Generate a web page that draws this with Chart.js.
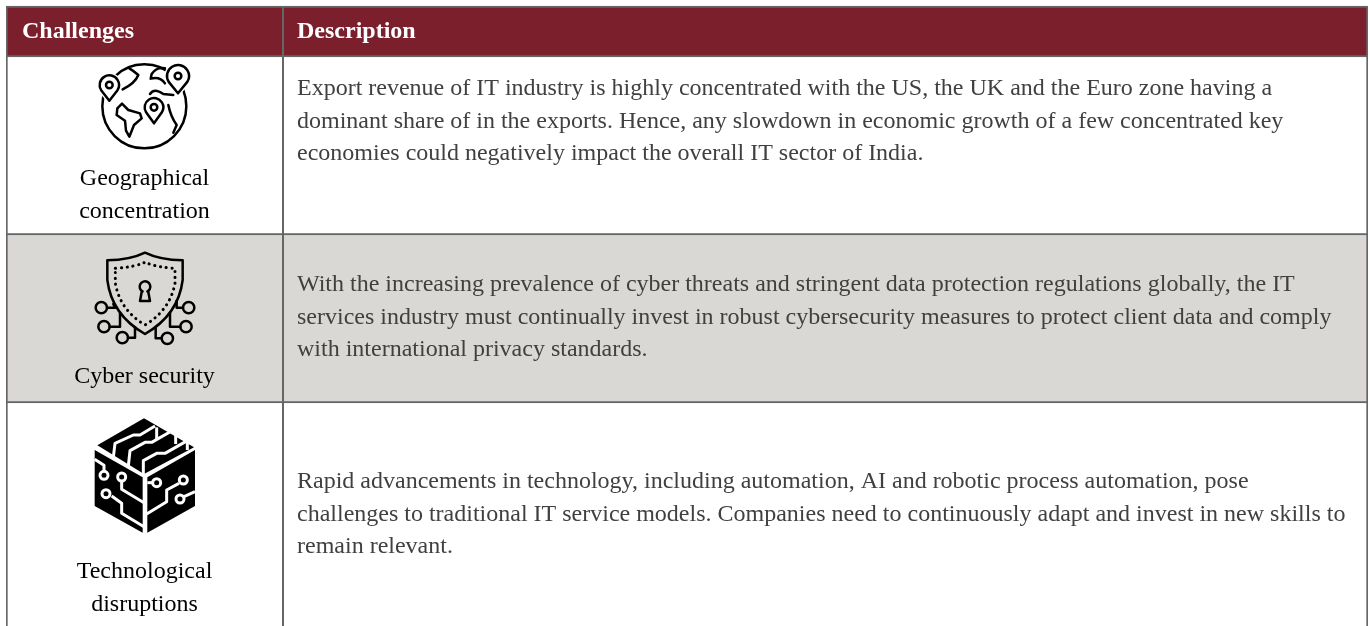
<!DOCTYPE html>
<html>
<head>
<meta charset="utf-8">
<title>Challenges</title>
<script src="https://cdn.jsdelivr.net/npm/chart.js@4"></script>
<style>
  html, body { margin: 0; padding: 0; background: #fff; overflow: hidden; }
  canvas { display: block; }
</style>
</head>
<body>
<canvas id="tableChart" width="1370" height="626"></canvas>
<script>
// table content
const columnHeaders = ['Challenges', 'Description'];
const challengeLabels = [
  ['Geographical', 'concentration'],
  ['Cyber security'],
  ['Technological', 'disruptions'],
];
const descriptionLines = [
  [
    'Export revenue of IT industry is highly concentrated with the US, the UK and the Euro zone having a',
    'dominant share of in the exports. Hence, any slowdown in economic growth of a few concentrated key',
    'economies could negatively impact the overall IT sector of India.',
  ],
  [
    'With the increasing prevalence of cyber threats and stringent data protection regulations globally, the IT',
    'services industry must continually invest in robust cybersecurity measures to protect client data and comply',
    'with international privacy standards.',
  ],
  [
    'Rapid advancements in technology, including automation, AI and robotic process automation, pose',
    'challenges to traditional IT service models. Companies need to continuously adapt and invest in new skills to',
    'remain relevant.',
  ],
];

// row edges on the y scale: header, row 1, row 2, row 3
const rowEdges = [6, 55, 233, 401, 640];
const rowColors = ['#7a1f2b', '#ffffff', '#d9d8d4', '#ffffff'];

const BORDER = '#666666';
const SERIF = '"Liberation Serif", "Times New Roman", serif';

// icons are traced at 3x, so they get scaled down when drawn
function strokePaths(ctx, paths, width, color) {
  ctx.lineWidth = width;
  ctx.strokeStyle = color;
  paths.forEach((p) => ctx.stroke(new Path2D(p)));
}

function drawPin(ctx, cx, cy, r, tipY, bg) {
  const pin = new Path2D();
  pin.arc(cx, cy, r, Math.PI * 0.82, Math.PI * 0.18);
  pin.lineTo(cx, tipY);
  pin.closePath();
  ctx.strokeStyle = bg;
  ctx.lineWidth = 16;
  ctx.stroke(pin);
  ctx.fillStyle = bg;
  ctx.fill(pin);
  ctx.strokeStyle = '#000';
  ctx.lineWidth = 7.5;
  ctx.stroke(pin);
  ctx.beginPath();
  ctx.arc(cx, cy, 10, 0, Math.PI * 2);
  ctx.stroke();
}

function drawGlobe(ctx) {
  ctx.save();
  ctx.scale(1 / 3, 1 / 3);
  ctx.lineJoin = 'round';
  ctx.lineCap = 'round';
  ctx.lineWidth = 7.5;
  ctx.strokeStyle = '#000';
  ctx.beginPath();
  ctx.arc(433, 319, 126, 0, Math.PI * 2);
  ctx.stroke();
  strokePaths(ctx, [
    'M352,325 L366,311 L385,330 L420,340 L425,355 L402,375 L388,410 L378,392 L375,362 L350,345 Z',
    'M388,205 Q400,212 415,225 Q405,250 368,268',
    'M495,205 Q470,200 455,222 L452,236 Q480,228 495,250',
    'M450,282 Q462,262 490,282 L520,285',
    'M505,315 Q512,350 530,375 L520,398',
  ], 7.5, '#000');
  drawPin(ctx, 328, 255, 29, 302, '#fff');
  drawPin(ctx, 534, 228, 33, 280, '#fff');
  drawPin(ctx, 462, 322, 28, 370, '#fff');
  ctx.restore();
}

function drawShield(ctx) {
  ctx.save();
  ctx.scale(1 / 3, 1 / 3);
  ctx.translate(0, 690);
  ctx.lineJoin = 'round';
  ctx.lineCap = 'round';
  strokePaths(ctx, [
    'M322,91 Q390,90 435,68 Q480,90 548,91 L548,150 Q535,255 435,312 Q335,255 322,150 Z',
    'M345,233 L321,233', 'M340,222 L345,233',
    'M329,290 L360,290 L360,250',
    'M384,323 L405,323 L405,292',
    'M549,233 L530,233 L530,212',
    'M541,290 L510,290 L510,248',
    'M485,325 L467,325 L467,294',
    'M425,186 L420,213 L450,213 L445,186',
  ], 7.5, '#000');
  [[304, 233], [312, 290], [367, 323], [566, 233], [558, 290], [502, 325]].forEach(([x, y]) => {
    ctx.beginPath();
    ctx.arc(x, y, 17, 0, Math.PI * 2);
    ctx.stroke();
  });
  ctx.beginPath();
  ctx.arc(435, 170, 16, Math.PI * 0.65, Math.PI * 0.35);
  ctx.stroke();
  ctx.setLineDash([0.5, 17]);
  ctx.lineWidth = 9;
  ctx.stroke(new Path2D('M346,115 Q400,112 435,97 Q470,112 525,115 L525,160 Q510,240 435,285 Q360,240 346,160 Z'));
  ctx.restore();
}

function drawCube(ctx) {
  ctx.save();
  ctx.scale(1 / 3, 1 / 3);
  ctx.translate(0, 1200);
  ctx.lineJoin = 'round';
  ctx.lineCap = 'butt';
  ctx.fillStyle = '#000';
  ctx.fill(new Path2D('M432,55 L582,142 L432,222 L292,136 Z'));
  ctx.fill(new Path2D('M284,150 L428,232 L428,398 L284,318 Z'));
  ctx.fill(new Path2D('M442,232 L585,150 L585,318 L442,398 Z'));
  strokePaths(ctx, [
    'M340,172 L345,130 L400,105 L420,105 L465,78',
    'M385,198 L390,152 L435,127 L455,127 L520,90',
    'M430,222 L430,182 L470,160 L495,160 L562,122',
    'M470,82 L470,118', 'M527,105 L527,132', 'M562,122 L562,150',
    'M284,178 L312,196 L312,212',
    'M365,245 L365,268 L432,308',
    'M335,288 L365,310 L365,340 L432,380',
    'M442,248 L458,248',
    'M537,250 L500,270 L500,305 L440,342',
    'M552,290 L585,275',
  ], 9, '#fff');
  [[312, 226], [365, 231], [318, 281], [470, 248], [550, 240], [540, 297]].forEach(([x, y]) => {
    ctx.beginPath();
    ctx.arc(x, y, 12, 0, Math.PI * 2);
    ctx.fillStyle = '#000';
    ctx.fill();
    ctx.lineWidth = 9;
    ctx.strokeStyle = '#fff';
    ctx.stroke();
  });
  ctx.restore();
}

// draws the column rule, the cell text and the icons on top of the row bands
const tableCells = {
  id: 'tableCells',
  afterDatasetsDraw(chart) {
    const { ctx, chartArea, scales } = chart;
    ctx.save();
    const top = scales.y.getPixelForValue(rowEdges[0]);
    ctx.fillStyle = BORDER;
    ctx.fillRect(282, top, 2, chartArea.bottom - top);

    ctx.textBaseline = 'alphabetic';
    ctx.fillStyle = '#ffffff';
    ctx.textAlign = 'left';
    ctx.font = 'bold 24px ' + SERIF;
    ctx.fillText(columnHeaders[0], 22, 38);
    ctx.fillText(columnHeaders[1], 297, 38);

    ctx.font = '24px ' + SERIF;
    ctx.fillStyle = '#000000';
    ctx.textAlign = 'center';
    const labelBase = [185, 383, 578];
    challengeLabels.forEach((lines, i) => {
      lines.forEach((line, j) => ctx.fillText(line, 144.5, labelBase[i] + j * 32.5));
    });

    ctx.fillStyle = '#404040';
    ctx.textAlign = 'left';
    const textBase = [95, 291, 488];
    descriptionLines.forEach((lines, i) => {
      lines.forEach((line, j) => ctx.fillText(line, 297, textBase[i] + j * 32.5));
    });

    drawGlobe(ctx);
    drawShield(ctx);
    drawCube(ctx);
    ctx.restore();
  },
};

new Chart(document.getElementById('tableChart'), {
  type: 'bar',
  data: {
    labels: ['table'],
    datasets: rowColors.map((color, i) => ({
      label: i === 0 ? columnHeaders.join(' / ') : 'Row ' + i,
      data: [[rowEdges[i], rowEdges[i + 1] + 2]],
      backgroundColor: color,
      borderColor: BORDER,
      borderWidth: 2,
      borderSkipped: false,
      barPercentage: 1,
      categoryPercentage: 1,
    })),
  },
  options: {
    responsive: false,
    animation: false,
    layout: { padding: { left: 6, right: 2, top: 0, bottom: 0 } },
    plugins: { legend: { display: false }, tooltip: { enabled: false }, title: { display: false } },
    datasets: { bar: { grouped: false } },
    scales: {
      x: { display: false },
      y: { display: false, reverse: true, min: 0, max: 626 },
    },
  },
  plugins: [tableCells],
});
</script>
</body>
</html>
